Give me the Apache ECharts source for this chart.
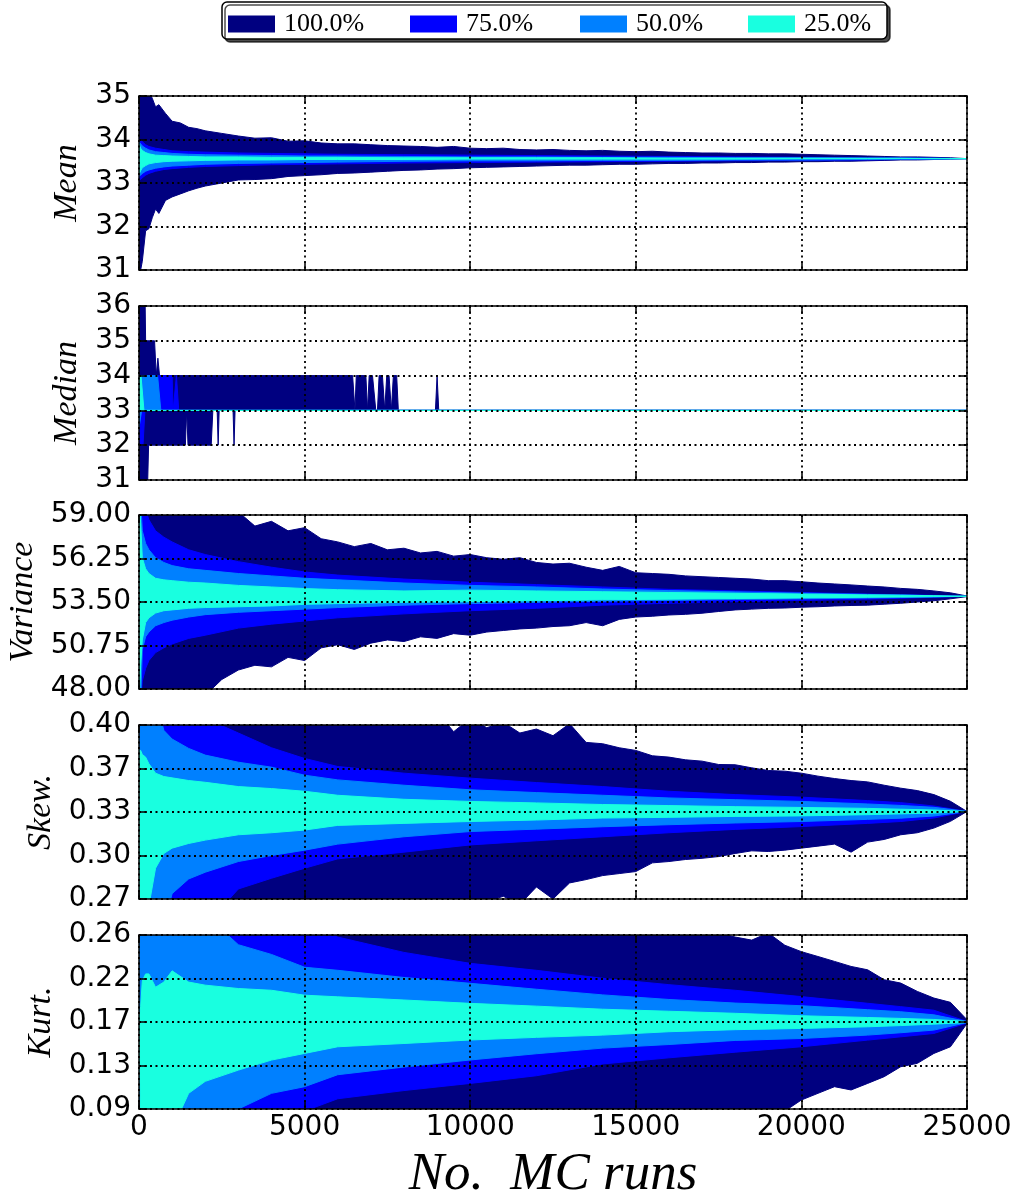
<!DOCTYPE html>
<html><head><meta charset="utf-8">
<script src="https://cdn.jsdelivr.net/npm/echarts@6/dist/echarts.min.js"></script>
<style>html,body{margin:0;padding:0;background:#fff}#c{width:1020px;height:1194px}</style>
</head><body><div id="c"></div><script>
// ---------------- DATA ----------------
const bandNames = ['100.0%', '75.0%', '50.0%', '25.0%'];
const bandColors = ['#000080', '#0000ff', '#0080ff', '#19ffe0'];

// fine grid (outer 100% envelope)
const XF = [0,100,200,300,400,500,600,800,1000,1250,1500,1750,
  2000,2500,3000,3500,4000,4500,5000,5500,6000,6500,7000,7500,8000,8500,9000,9500,
  10000,10500,11000,11500,12000,12500,13000,13500,14000,14500,15000,15500,16000,16500,
  17000,17500,18000,18500,19000,19500,20000,20500,21000,21500,22000,22500,23000,23500,
  24000,24500,25000];
// coarse grid (inner percentile bands)
const XC = [0,50,100,200,300,500,750,1000,1500,2000,3000,4000,5000,6000,8000,10000,
  12000,14000,16000,18000,20000,22000,23000,24000,25000];

// ---- Mean ----
const meanTicks = ['31','32','33','34','35'];
const meanHi100 = [35.5,35.3,35.2,35.1,34.95,34.75,34.8,34.6,34.42,34.38,34.28,34.25,
  34.2,34.14,34.08,34.03,34.04,33.96,33.97,33.92,33.9,33.9,33.88,33.86,33.85,33.84,33.82,33.84,
  33.8,33.79,33.8,33.77,33.76,33.77,33.75,33.74,33.75,33.73,33.72,33.73,33.71,33.7,
  33.69,33.69,33.68,33.68,33.67,33.67,33.66,33.65,33.64,33.63,33.62,33.61,33.6,33.6,
  33.59,33.58,33.56];
const meanLo100 = [30.8,31.2,31.9,31.95,32.2,32.4,32.3,32.6,32.68,32.75,32.82,32.88,
  32.93,33.0,33.07,33.08,33.1,33.15,33.17,33.19,33.22,33.23,33.25,33.27,33.29,33.3,33.32,33.33,
  33.35,33.36,33.37,33.38,33.39,33.4,33.41,33.41,33.42,33.43,33.43,33.44,33.45,33.45,
  33.46,33.46,33.47,33.47,33.48,33.48,33.49,33.49,33.5,33.5,33.51,33.52,33.53,33.53,
  33.54,33.55,33.56];
const meanHi75 = [34.02,34.0,33.95,33.88,33.84,33.8,33.77,33.74,33.72,33.71,33.69,33.68,33.67,33.66,33.65,33.64,33.63,33.62,33.61,33.6,33.59,33.58,33.58,33.57,33.56];
const meanLo75 = [33.05,33.08,33.12,33.18,33.22,33.27,33.31,33.33,33.36,33.38,33.4,33.42,33.43,33.44,33.46,33.47,33.48,33.49,33.5,33.51,33.52,33.53,33.54,33.55,33.56];
const meanHi50 = [33.95,33.9,33.85,33.8,33.76,33.72,33.7,33.68,33.66,33.65,33.64,33.63,33.62,33.62,33.61,33.6,33.6,33.59,33.59,33.58,33.58,33.57,33.57,33.57,33.56];
const meanLo50 = [33.15,33.18,33.22,33.27,33.3,33.34,33.37,33.39,33.41,33.43,33.45,33.46,33.47,33.48,33.5,33.51,33.51,33.52,33.52,33.53,33.53,33.54,33.55,33.55,33.56];
const meanHi25 = [33.9,33.8,33.75,33.7,33.67,33.64,33.63,33.62,33.61,33.6,33.6,33.59,33.59,33.59,33.58,33.58,33.58,33.58,33.57,33.57,33.57,33.57,33.57,33.56,33.56];
const meanLo25 = [33.2,33.28,33.35,33.4,33.44,33.47,33.49,33.5,33.51,33.52,33.53,33.53,33.54,33.54,33.54,33.55,33.55,33.55,33.55,33.55,33.56,33.56,33.56,33.56,33.56];

// ---- Median (step-like, [runs, value]) ----
const medianTicks = ['31','32','33','34','35','36'];
const medianHi100 = [[0,36.5],[180,36.5],[200,35],[470,35],[520,34],[570,34.5],[620,34],
  [6450,34],[6520,33],[6560,34],[6850,34],[6900,33],[6950,34],[7050,34],[7150,33],[7200,33],
  [7250,34],[7350,34],[7420,33],[7480,34],[7550,34],[7620,33],[7680,34],[7780,34],[7830,33],
  [8950,33],[9000,34],[9050,33],[25000,33]];
const medianLo100 = [[0,30.5],[250,30.5],[290,32],[1400,32],[1440,33],[1480,32],[2180,32],
  [2230,33],[2360,33],[2390,32],[2420,33],[2840,33],[2870,32],[2900,33],[25000,33]];
const medianHi75 = [[0,34],[1000,34],[1030,33],[1130,34],[1200,33],[25000,33]];
const medianLo75 = [[0,32],[120,32],[180,33],[25000,33]];
const medianHi50 = [[0,34],[560,34],[660,33],[25000,33]];
const medianLo50 = [[0,32.5],[80,33],[25000,33]];
const medianHi25 = [[0,34],[60,34],[150,33],[25000,33]];
const medianLo25 = [[0,33],[25000,33]];

// ---- Variance ----
const varTicks = ['48.00','50.75','53.50','56.25','59.00'];
const varHi100 = [60,60,60,60,60,60,60,60,60,60,60,60,
  60,60,59.2,58.3,58.6,58.0,58.2,57.5,57.3,57.0,57.2,56.8,56.9,56.6,56.7,56.4,
  56.5,56.3,56.2,56.3,56.0,55.9,55.95,55.7,55.5,55.75,55.35,55.3,55.25,55.15,
  55.1,55.05,55.0,54.95,54.85,54.85,54.78,54.7,54.64,54.58,54.51,54.45,54.36,54.3,
  54.2,54.08,53.88];
const varLo100 = [47,47,47,47,47,47,47,47,47,47,47,47,
  47.6,48.6,49.2,49.5,49.4,50.0,49.8,50.6,50.8,50.5,50.9,51.1,51.0,51.3,51.2,51.5,
  51.4,51.6,51.7,51.8,51.85,51.95,52.0,52.2,52.0,52.4,52.55,52.6,52.68,52.72,
  52.79,52.9,53.0,53.05,53.1,53.12,53.17,53.2,53.25,53.28,53.3,53.36,53.42,53.5,
  53.58,53.7,53.84];
const varHi75 = [60,60,60,59.3,58.7,58.0,57.6,57.3,56.8,56.5,56.05,55.7,55.4,55.2,54.95,54.75,54.6,54.45,54.3,54.2,54.1,54.0,53.96,53.92,53.86];
const varLo75 = [47,47,48.5,49.3,49.8,50.3,50.6,50.85,51.2,51.4,51.85,52.1,52.3,52.5,52.75,52.95,53.1,53.3,53.42,53.52,53.6,53.68,53.74,53.8,53.86];
const varHi50 = [60,60,58.0,57.2,56.8,56.3,56.0,55.8,55.6,55.5,55.3,55.15,55.0,54.9,54.7,54.55,54.45,54.32,54.22,54.14,54.06,53.98,53.94,53.9,53.86];
const varLo50 = [47,47,50.5,51.3,51.6,52.0,52.2,52.35,52.55,52.7,52.85,52.95,53.05,53.15,53.3,53.4,53.48,53.55,53.6,53.66,53.7,53.75,53.78,53.82,53.86];
const varHi25 = [60,58.5,56.3,55.6,55.3,55.0,54.9,54.85,54.75,54.7,54.55,54.45,54.35,54.28,54.2,54.25,54.2,54.15,54.1,54.05,54.0,53.95,53.93,53.9,53.86];
const varLo25 = [47,49.5,51.1,52.2,52.5,52.8,52.95,53.0,53.1,53.15,53.2,53.25,53.35,53.4,53.48,53.52,53.58,53.64,53.68,53.72,53.76,53.8,53.82,53.84,53.86];

// ---- Skew ----
const skewTicks = ['0.27','0.30','0.33','0.37','0.40'];
const skewHi100 = [0.42,0.42,0.42,0.42,0.42,0.42,0.42,0.42,0.42,0.42,0.42,0.42,
  0.42,0.42,0.42,0.42,0.42,0.42,0.42,0.42,0.42,0.42,0.42,0.42,0.42,0.42,0.41,0.395,
  0.405,0.398,0.402,0.394,0.397,0.392,0.401,0.387,0.386,0.383,0.381,0.377,0.376,0.374,
  0.373,0.3705,0.3703,0.368,0.366,0.3655,0.364,0.3618,0.36,0.3585,0.3575,0.355,0.3528,0.351,
  0.348,0.343,0.3354];
const skewLo100 = [0.25,0.25,0.25,0.25,0.25,0.25,0.25,0.25,0.25,0.25,0.25,0.25,
  0.25,0.25,0.25,0.25,0.25,0.25,0.25,0.25,0.25,0.25,0.25,0.25,0.25,0.25,0.25,0.25,
  0.25,0.268,0.272,0.266,0.279,0.27,0.282,0.2845,0.2875,0.289,0.2905,0.297,0.298,0.2995,
  0.3004,0.3017,0.304,0.306,0.3055,0.3065,0.308,0.3095,0.311,0.305,0.3125,0.3145,0.318,0.3195,
  0.323,0.328,0.3354];
const skewHi75 = [0.42,0.42,0.42,0.42,0.42,0.42,0.42,0.42,0.42,0.405,0.394,0.383,0.375,0.369,0.364,0.3603,0.357,0.354,0.3505,0.348,0.3461,0.3435,0.342,0.3395,0.3354];
const skewLo75 = [0.25,0.25,0.25,0.25,0.25,0.25,0.25,0.25,0.25,0.25,0.2775,0.2855,0.293,0.3,0.305,0.3104,0.3135,0.3165,0.3195,0.322,0.3241,0.3265,0.3279,0.3305,0.3354];
const skewHi50 = [0.42,0.42,0.42,0.42,0.42,0.42,0.396,0.3895,0.3825,0.3775,0.3722,0.3685,0.3625,0.359,0.355,0.3516,0.3495,0.3475,0.3455,0.3442,0.3429,0.341,0.3399,0.3385,0.3354];
const skewLo50 = [0.25,0.25,0.25,0.25,0.25,0.25,0.25,0.274,0.285,0.29,0.298,0.3025,0.3065,0.311,0.3165,0.3204,0.3222,0.324,0.3255,0.3268,0.3279,0.3295,0.3304,0.332,0.3354];
const skewHi25 = [0.381,0.381,0.378,0.376,0.371,0.364,0.3615,0.3605,0.3585,0.3572,0.354,0.3525,0.3505,0.3475,0.3445,0.3429,0.3418,0.3406,0.3398,0.339,0.3384,0.3377,0.3371,0.3365,0.3354];
const skewLo25 = [0.25,0.25,0.25,0.25,0.265,0.293,0.304,0.308,0.3115,0.314,0.318,0.3195,0.3215,0.325,0.3265,0.3279,0.329,0.3305,0.331,0.3317,0.3321,0.333,0.3336,0.3342,0.3354];

// ---- Kurtosis ----
const kurtTicks = ['0.09','0.13','0.17','0.22','0.26'];
const kurtHi100 = [0.28,0.28,0.28,0.28,0.28,0.28,0.28,0.28,0.28,0.28,0.28,0.28,
  0.28,0.28,0.28,0.28,0.28,0.28,0.28,0.28,0.28,0.28,0.28,0.28,0.28,0.28,0.28,0.28,
  0.28,0.28,0.28,0.28,0.28,0.28,0.28,0.28,0.28,0.28,0.28,0.28,0.28,0.28,
  0.28,0.262,0.258,0.255,0.262,0.25,0.2437,0.239,0.2342,0.2293,0.226,0.2163,0.213,0.2049,
  0.1984,0.1942,0.1772];
const kurtLo100 = [0.07,0.07,0.07,0.07,0.07,0.07,0.07,0.07,0.07,0.07,0.07,0.07,
  0.07,0.07,0.07,0.07,0.07,0.07,0.07,0.07,0.07,0.07,0.07,0.07,0.07,0.07,0.07,0.07,
  0.07,0.07,0.07,0.07,0.07,0.07,0.07,0.07,0.07,0.07,0.07,0.07,0.07,0.07,
  0.07,0.07,0.07,0.085,0.07,0.088,0.0988,0.1053,0.1118,0.1086,0.115,0.1216,0.1313,0.1346,
  0.1443,0.1508,0.1735];
const kurtHi75 = [0.28,0.28,0.28,0.28,0.28,0.28,0.28,0.28,0.28,0.28,0.28,0.28,0.28,0.258,0.243,0.2323,0.2255,0.2177,0.2115,0.206,0.1998,0.1933,0.19,0.1865,0.1755];
const kurtLo75 = [0.07,0.07,0.07,0.07,0.07,0.07,0.07,0.07,0.07,0.07,0.07,0.07,0.088,0.1,0.108,0.115,0.1225,0.134,0.14,0.1455,0.1508,0.1573,0.1605,0.1638,0.174];
const kurtHi50 = [0.28,0.28,0.28,0.28,0.28,0.28,0.28,0.28,0.28,0.28,0.2505,0.241,0.2285,0.2255,0.2185,0.2128,0.207,0.2015,0.197,0.1935,0.1909,0.187,0.185,0.182,0.1755];
const kurtLo50 = [0.07,0.07,0.07,0.07,0.07,0.07,0.07,0.07,0.07,0.07,0.09,0.1053,0.1118,0.1235,0.131,0.1379,0.144,0.1495,0.153,0.157,0.1589,0.1622,0.1645,0.1671,0.1745];
const kurtHi25 = [0.175,0.19,0.215,0.222,0.222,0.209,0.214,0.225,0.214,0.211,0.2077,0.206,0.2012,0.1996,0.1965,0.1932,0.1905,0.1875,0.1855,0.1835,0.1811,0.1794,0.1785,0.1775,0.1755];
const kurtLo25 = [0.175,0.08,0.07,0.07,0.07,0.07,0.07,0.07,0.1053,0.117,0.128,0.1378,0.1443,0.1508,0.154,0.1574,0.16,0.1622,0.1655,0.1675,0.1687,0.1703,0.1715,0.1729,0.1745];

const xLabel = 'No.  MC runs';

// ---------------- BUILD ----------------
const zip = (xs, ys) => ys.map((y, i) => [xs[i], y]);

const panels = [
  {title: 'Mean', min: 31, max: 35, ticks: meanTicks, nameGap: 41,
   bands: [[zip(XF, meanHi100), zip(XF, meanLo100)], [zip(XC, meanHi75), zip(XC, meanLo75)],
           [zip(XC, meanHi50), zip(XC, meanLo50)], [zip(XC, meanHi25), zip(XC, meanLo25)]]},
  {title: 'Median', min: 31, max: 36, ticks: medianTicks, nameGap: 41,
   bands: [[medianHi100, medianLo100], [medianHi75, medianLo75], [medianHi50, medianLo50], [medianHi25, medianLo25]]},
  {title: 'Variance', min: 48, max: 59, ticks: varTicks, nameGap: 87,
   bands: [[zip(XF, varHi100), zip(XF, varLo100)], [zip(XC, varHi75), zip(XC, varLo75)],
           [zip(XC, varHi50), zip(XC, varLo50)], [zip(XC, varHi25), zip(XC, varLo25)]]},
  {title: 'Skew.', min: 0.27, max: 0.40, ticks: skewTicks, nameGap: 67,
   bands: [[zip(XF, skewHi100), zip(XF, skewLo100)], [zip(XC, skewHi75), zip(XC, skewLo75)],
           [zip(XC, skewHi50), zip(XC, skewLo50)], [zip(XC, skewHi25), zip(XC, skewLo25)]]},
  {title: 'Kurt.', min: 0.09, max: 0.26, ticks: kurtTicks, nameGap: 67,
   bands: [[zip(XF, kurtHi100), zip(XF, kurtLo100)], [zip(XC, kurtHi75), zip(XC, kurtLo75)],
           [zip(XC, kurtHi50), zip(XC, kurtLo50)], [zip(XC, kurtHi25), zip(XC, kurtLo25)]]}
];

const tops = [96, 306, 515, 725, 935];
const PH = 174;
const black = '#000';
const dotted = {color: black, type: [2, 3.5], width: 1.8};
const tickFont = 'DejaVu Sans';

const grids = [], xAxes = [], yAxes = [], series = [];
panels.forEach((p, g) => {
  grids.push({left: 139, width: 828, top: tops[g], height: PH, containLabel: false, outerBoundsMode: 'none'});
  const last = g === panels.length - 1;
  xAxes.push({
    gridIndex: g, type: 'value', min: 0, max: 25000, interval: 5000, position: 'bottom', z: 10,
    axisLine: {show: true, onZero: false, lineStyle: {color: black, width: 1.5}},
    axisTick: {show: true, inside: true, length: 8, lineStyle: {color: black, width: 1.5}},
    axisLabel: {show: last, fontFamily: tickFont, fontSize: 28, color: black, margin: 5,
      formatter: v => String(v)},
    splitLine: {show: true, lineStyle: dotted},
    name: last ? xLabel : '', nameLocation: 'middle', nameGap: 40,
    nameTextStyle: {fontFamily: 'Liberation Serif', fontStyle: 'italic', fontSize: 53, color: black}
  });
  xAxes.push({
    gridIndex: g, type: 'value', min: 0, max: 25000, interval: 5000, position: 'top', z: 10,
    axisLine: {show: true, onZero: false, lineStyle: {color: black, width: 1.5}},
    axisTick: {show: true, inside: true, length: 8, lineStyle: {color: black, width: 1.5}},
    axisLabel: {show: false}, splitLine: {show: false}
  });
  yAxes.push({gridIndex: g, type: 'value', min: p.min, max: p.max, show: false});
  const n = p.ticks.length - 1;
  const ticks = p.ticks;
  yAxes.push({
    gridIndex: g, type: 'value', min: 0, max: n, interval: 1, position: 'left', z: 10,
    axisLine: {show: true, onZero: false, lineStyle: {color: black, width: 1.5}},
    axisTick: {show: true, inside: true, length: 8, lineStyle: {color: black, width: 1.5}},
    axisLabel: {fontFamily: tickFont, fontSize: 28, color: black, margin: 8,
      formatter: v => ticks[Math.round(v)]},
    splitLine: {show: true, lineStyle: dotted},
    name: p.title, nameLocation: 'middle', nameRotate: 90, nameGap: p.nameGap,
    nameTextStyle: {fontFamily: 'Liberation Serif', fontStyle: 'italic', fontSize: 34, color: black}
  });
  yAxes.push({
    gridIndex: g, type: 'value', min: 0, max: n, interval: 1, position: 'right', z: 10,
    axisLine: {show: true, onZero: false, lineStyle: {color: black, width: 1.5}},
    axisTick: {show: true, inside: true, length: 8, lineStyle: {color: black, width: 1.5}},
    axisLabel: {show: false}, splitLine: {show: false}
  });
  p.bands.forEach((b, k) => {
    const upper = b[0], lower = b[1], color = bandColors[k];
    series.push({
      type: 'custom', name: bandNames[k], coordinateSystem: 'cartesian2d',
      xAxisIndex: 2 * g, yAxisIndex: 3 * g, clip: true, silent: true, animation: false,
      itemStyle: {color: color},
      data: upper,
      renderItem: (params, api) => {
        if (params.dataIndex !== 0) return null;
        const pts = upper.map(q => api.coord(q)).concat(lower.slice().reverse().map(q => api.coord(q)));
        const cs = params.coordSys;
        return {
          type: 'polygon', shape: {points: pts},
          style: {fill: color, stroke: color, lineWidth: 1},
          clipPath: {type: 'rect', shape: {x: cs.x, y: cs.y, width: cs.width, height: cs.height}}
        };
      }
    });
  });
});

const legendLefts = [228, 410, 580, 748];
const legends = bandNames.map((nm, i) => ({
  data: [nm], left: legendLefts[i], top: 11, padding: 0, icon: 'rect',
  itemWidth: 47, itemHeight: 17, itemGap: 8, selectedMode: false, z: 5,
  itemStyle: {borderWidth: 0},
  textStyle: {fontFamily: 'Liberation Serif', fontSize: 26, color: black, padding: [0, 0, 0, 4]}
}));

const chart = echarts.init(document.getElementById('c'), null, {renderer: 'canvas'});
chart.setOption({
  animation: false,
  backgroundColor: '#fff',
  graphic: [{
    type: 'rect', z: 1, silent: true,
    shape: {x: 222, y: 2, width: 665, height: 37, r: 5},
    style: {fill: '#fff', stroke: black, lineWidth: 1.5, shadowColor: 'rgba(0,0,0,0.7)', shadowOffsetX: 3, shadowOffsetY: 3, shadowBlur: 0}
  }],
  legend: legends,
  grid: grids, xAxis: xAxes, yAxis: yAxes, series: series
});
</script></body></html>
